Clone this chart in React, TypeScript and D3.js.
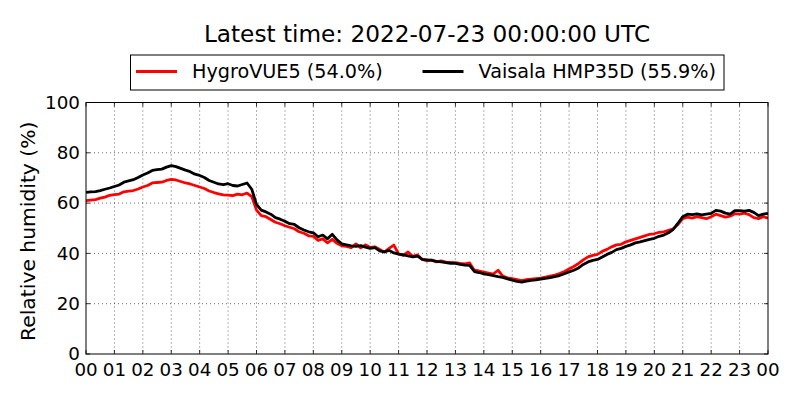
import { useEffect, useRef } from 'react';
import * as d3 from 'd3';

// 10-minute readings, hours 00:00 .. 24:00
const hours = d3.range(0, 24.0001, 1 / 6);

const hygroVue = [
  61.0, 61.2, 61.4, 62.0, 62.4, 63.1,
  63.4, 63.6, 64.5, 64.8, 65.0, 65.6,
  66.4, 67.0, 68.0, 68.2, 68.3, 69.0,
  69.4, 69.2, 68.6, 68.0, 67.6, 67.0,
  66.4, 65.8, 64.8, 64.2, 63.7, 63.3,
  63.2, 63.0, 63.6, 63.3, 64.0, 62.6,
  57.2, 55.0, 54.6, 53.5, 52.4, 51.8,
  51.0, 50.4, 49.8, 48.6, 48.0, 47.0,
  46.8, 45.2, 45.8, 44.2, 45.6, 44.0,
  43.0, 42.8, 42.3, 43.8, 42.2, 43.4,
  42.4, 42.6, 41.6, 40.5, 42.0, 43.3,
  39.8, 39.2, 40.6, 38.8, 39.4, 37.6,
  37.0, 37.4, 36.6, 37.0, 36.5, 36.4,
  36.3, 36.0, 35.8, 36.2, 33.3, 33.0,
  32.6, 32.2, 31.8, 33.3, 31.0, 30.3,
  30.0, 29.6, 29.2, 29.6, 29.8, 30.0,
  30.2, 30.6, 31.0, 31.4, 32.0, 32.8,
  33.8, 34.8, 36.0, 37.4, 38.6, 39.2,
  39.6, 40.8, 41.6, 42.6, 43.4, 43.6,
  44.6, 45.2, 45.8, 46.4, 47.0, 47.6,
  47.8, 48.4, 48.6, 49.2, 49.8, 51.5,
  53.8, 54.4, 54.0, 54.6, 54.2, 53.8,
  54.6, 55.6, 55.0, 54.4, 54.8, 55.8,
  55.6, 56.0, 55.4, 54.2, 53.8, 54.6,
  54.0,
];

const vaisala = [
  64.3, 64.5, 64.6, 65.0, 65.5, 66.0,
  66.6, 67.2, 68.3, 68.8, 69.3, 70.2,
  71.2, 72.0, 73.0, 73.3, 73.5, 74.3,
  74.9, 74.5, 73.8, 73.1, 72.5, 71.5,
  71.0, 70.2, 69.0, 68.3, 67.6, 67.3,
  67.7, 67.0, 66.8, 67.4, 68.0, 65.5,
  59.5, 57.2, 56.5, 55.6, 54.2, 53.6,
  52.8, 51.8, 51.5, 50.2, 49.3, 48.6,
  48.2, 46.6, 47.3, 45.8, 47.6, 45.4,
  43.8, 43.4, 43.0, 42.8, 43.1, 42.5,
  42.0, 42.3, 41.0, 40.6, 41.2, 40.2,
  39.7, 39.4, 39.0, 38.6, 38.9, 37.6,
  37.4, 37.2, 36.8, 36.6, 36.3, 36.0,
  36.0, 35.6, 35.3, 35.2, 32.8, 32.4,
  31.9, 31.6, 31.2, 30.8, 30.5, 29.9,
  29.4, 28.9, 28.6, 29.0, 29.3, 29.5,
  29.8, 30.1, 30.4, 30.8, 31.2, 31.9,
  32.6, 33.3, 34.2, 35.6, 36.6, 37.2,
  37.6, 38.6, 39.6, 40.4, 41.5, 42.0,
  42.8, 43.4, 44.2, 44.6, 45.1, 45.6,
  46.0, 46.8, 47.3, 48.2, 49.6, 52.0,
  54.6, 55.6, 55.4, 55.7, 55.3, 55.6,
  55.9, 57.1, 56.8, 56.0, 55.6, 57.0,
  57.0, 56.8, 57.1, 56.3, 55.0, 55.6,
  55.9,
];

const hourTicks = d3.range(0, 25);
const humidityTicks = [0, 20, 40, 60, 80, 100];
const seriesNames = ['HygroVUE5 (54.0%)', 'Vaisala HMP35D (55.9%)'];
const seriesColors = ['#ff0000', '#000000'];
const title = 'Latest time: 2022-07-23 00:00:00 UTC';

const FONT = '"DejaVu Sans", sans-serif';

export default function App() {
  const svgRef = useRef<SVGSVGElement>(null);

  useEffect(() => {
    if (!svgRef.current) return;
    const svg = d3.select(svgRef.current);
    svg.selectAll('*').remove();

    const width = 800;
    const height = 400;
    const margin = { top: 102.5, right: 32, bottom: 46, left: 86 };
    const innerWidth = width - margin.left - margin.right;
    const innerHeight = height - margin.top - margin.bottom;

    const x = d3.scaleLinear().domain([0, 24]).range([0, innerWidth]);
    const y = d3.scaleLinear().domain([0, 100]).range([innerHeight, 0]);

    svg.attr('width', width).attr('height', height);

    const g = svg.append('g')
      .attr('transform', `translate(${margin.left},${margin.top})`);

    // clip for the lines
    svg.append('defs').append('clipPath')
      .attr('id', 'plotClip')
      .append('rect')
      .attr('width', innerWidth)
      .attr('height', innerHeight);

    // grid
    g.selectAll('.grid-x')
      .data(hourTicks.slice(1, -1))
      .enter()
      .append('line')
      .attr('x1', d => x(d))
      .attr('x2', d => x(d))
      .attr('y1', 0)
      .attr('y2', innerHeight)
      .attr('stroke', '#000')
      .attr('stroke-width', 0.6)
      .attr('stroke-dasharray', '1,3');

    g.selectAll('.grid-y')
      .data(humidityTicks.slice(1, -1))
      .enter()
      .append('line')
      .attr('x1', 0)
      .attr('x2', innerWidth)
      .attr('y1', d => y(d))
      .attr('y2', d => y(d))
      .attr('stroke', '#000')
      .attr('stroke-width', 0.6)
      .attr('stroke-dasharray', '1,3');

    // inward ticks on all sides
    const tickLen = 4;
    hourTicks.forEach(h => {
      g.append('line')
        .attr('x1', x(h)).attr('x2', x(h))
        .attr('y1', innerHeight).attr('y2', innerHeight - tickLen)
        .attr('stroke', '#000').attr('stroke-width', 0.8);
      g.append('line')
        .attr('x1', x(h)).attr('x2', x(h))
        .attr('y1', 0).attr('y2', tickLen)
        .attr('stroke', '#000').attr('stroke-width', 0.8);
    });
    humidityTicks.forEach(v => {
      g.append('line')
        .attr('x1', 0).attr('x2', tickLen)
        .attr('y1', y(v)).attr('y2', y(v))
        .attr('stroke', '#000').attr('stroke-width', 0.8);
      g.append('line')
        .attr('x1', innerWidth).attr('x2', innerWidth - tickLen)
        .attr('y1', y(v)).attr('y2', y(v))
        .attr('stroke', '#000').attr('stroke-width', 0.8);
    });

    // lines
    const line = d3.line<number>()
      .x((_, i) => x(hours[i]))
      .y(d => y(d));

    const lines = g.append('g').attr('clip-path', 'url(#plotClip)');
    [hygroVue, vaisala].forEach((series, i) => {
      lines.append('path')
        .datum(series)
        .attr('fill', 'none')
        .attr('stroke', seriesColors[i])
        .attr('stroke-width', 2.8)
        .attr('stroke-linejoin', 'round')
        .attr('d', line);
    });

    // frame
    g.append('rect')
      .attr('width', innerWidth)
      .attr('height', innerHeight)
      .attr('fill', 'none')
      .attr('stroke', '#000')
      .attr('stroke-width', 1);

    // tick labels
    g.selectAll('.x-label')
      .data(hourTicks)
      .enter()
      .append('text')
      .attr('x', d => x(d))
      .attr('y', innerHeight + 21.5)
      .attr('text-anchor', 'middle')
      .style('font-family', FONT)
      .style('font-size', '18.3px')
      .text(d => d3.format('02d')(d % 24));

    g.selectAll('.y-label')
      .data(humidityTicks)
      .enter()
      .append('text')
      .attr('x', -6)
      .attr('y', d => y(d))
      .attr('dy', '0.34em')
      .attr('text-anchor', 'end')
      .style('font-family', FONT)
      .style('font-size', '18.3px')
      .text(d => d);

    // axis title
    svg.append('text')
      .attr('transform', `translate(35,${margin.top + innerHeight / 2 + 3}) rotate(-90)`)
      .attr('text-anchor', 'middle')
      .style('font-family', FONT)
      .style('font-size', '20.3px')
      .text('Relative humidity (%)');

    // chart title
    svg.append('text')
      .attr('x', margin.left + innerWidth / 2)
      .attr('y', 41.5)
      .attr('text-anchor', 'middle')
      .style('font-family', FONT)
      .style('font-size', '23.2px')
      .text(title);

    // legend
    const legend = svg.append('g');
    legend.append('rect')
      .attr('x', 130.5)
      .attr('y', 55)
      .attr('width', 593.5)
      .attr('height', 35)
      .attr('fill', '#fff')
      .attr('stroke', '#000')
      .attr('stroke-width', 1);

    const entryX = [136, 422.5];
    seriesNames.forEach((name, i) => {
      legend.append('line')
        .attr('x1', entryX[i])
        .attr('x2', entryX[i] + 41)
        .attr('y1', 71.5)
        .attr('y2', 71.5)
        .attr('stroke', seriesColors[i])
        .attr('stroke-width', 2.8);
      legend.append('text')
        .attr('x', entryX[i] + 56)
        .attr('y', 78)
        .style('font-family', FONT)
        .style('font-size', '19.2px')
        .text(name);
    });
  }, []);

  return (
    <svg
      ref={svgRef}
      style={{ position: 'absolute', left: 0, top: 0, background: '#fff' }}
    />
  );
}
